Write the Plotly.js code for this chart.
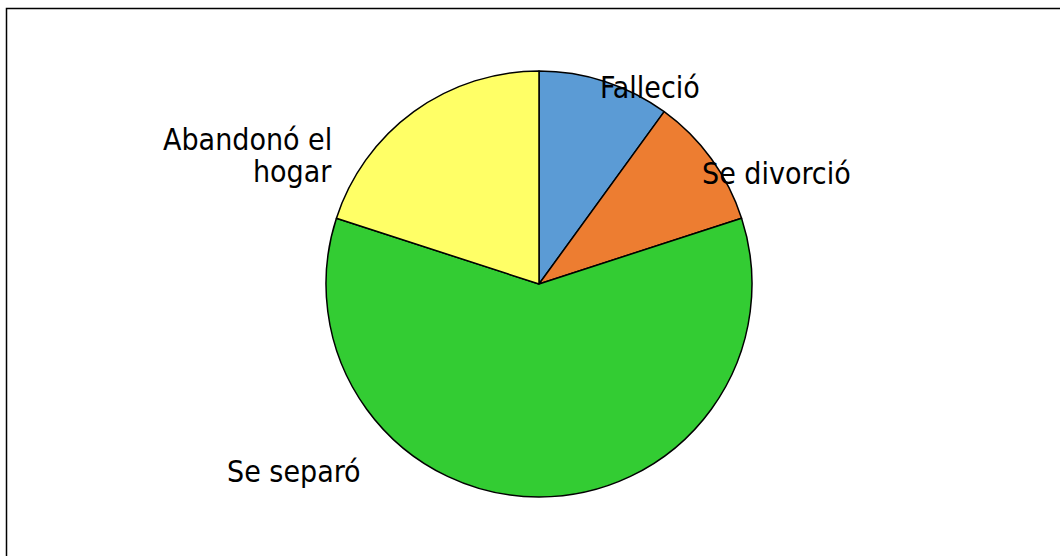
<!DOCTYPE html>
<html>
<head>
<meta charset="utf-8">
<script src="https://cdn.plot.ly/plotly-3.0.1.min.js"></script>
<style>html,body{margin:0;padding:0;background:#fff;}#chart{width:1060px;height:556px;}</style>
</head>
<body>
<div id="chart"></div>
<script>
const categories = ["Falleció", "Se divorció", "Se separó", "Abandonó el hogar"];
const values = [10, 10, 60, 20];
const labelText = ["Falleció", "Se divorció", "Se separó", "Abandonó el<br>hogar"];
const colors = ["#5B9BD5", "#ED7D31", "#33CC33", "#FFFF66"];

const W = 1060, H = 556;
const FONT = "'DejaVu Sans Condensed', 'DejaVu Sans', sans-serif";
const LINE = 32;
// label placements (pixel layout positions of first line, converted to paper coords)
const labelPos = [
  {x: 598, y: 87, xanchor: "left"},
  {x: 700, y: 173, xanchor: "left"},
  {x: 225, y: 471, xanchor: "left"},
  {x: 334, y: 139, xanchor: "right"}
];

const trace = {
  type: "pie",
  labels: categories,
  values: values,
  sort: false,
  direction: "clockwise",
  rotation: 0,
  marker: {colors: colors, line: {color: "#000000", width: 1.5}},
  textinfo: "none",
  hoverinfo: "label+value",
  domain: {x: [326 / W, 752 / W], y: [1 - 497 / H, 1 - 71 / H]},
  showlegend: false
};

const annotations = [];
labelText.forEach((t, i) => {
  t.split("<br>").forEach((line, j) => {
    annotations.push({
      text: line,
      xref: "paper", yref: "paper",
      x: labelPos[i].x / W,
      y: 1 - (labelPos[i].y + j * LINE) / H,
      xanchor: labelPos[i].xanchor,
      yanchor: "middle",
      showarrow: false,
      font: {family: FONT, size: 30, color: "#000000"}
    });
  });
});

const layout = {
  width: W, height: H,
  margin: {l: 0, r: 0, t: 0, b: 0},
  paper_bgcolor: "#ffffff",
  showlegend: false,
  annotations: annotations,
  shapes: [{
    type: "rect", xref: "paper", yref: "paper",
    x0: 6.5 / W, x1: 1.02, y0: -0.02, y1: 1 - 8.5 / H,
    line: {color: "#000000", width: 1.5}
  }]
};

Plotly.newPlot("chart", [trace], layout, {displayModeBar: false, staticPlot: true});
</script>
</body>
</html>
